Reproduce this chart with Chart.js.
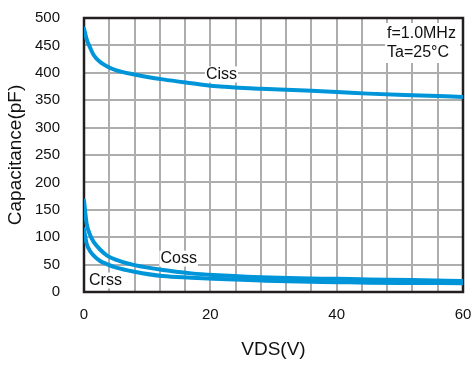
<!DOCTYPE html>
<html>
<head>
<meta charset="utf-8">
<script src="https://cdn.jsdelivr.net/npm/chart.js@4"></script>
<style>
  html, body { margin: 0; padding: 0; background: #fff; }
  #wrap { width: 472px; height: 365px; }
</style>
</head>
<body>
<div id="wrap"><canvas id="capChart" width="472" height="365"></canvas></div>
<script>
// Data ----------------------------------------------------

const vds  = [0, 0.4, 1, 1.5, 2.5, 3.6, 5, 8, 12.5, 17, 20.5, 28, 34, 40, 45, 52, 60];
const ciss = [481, 462, 445, 433, 420, 412, 405, 397, 388, 381, 376, 371, 368, 365, 362, 359, 356];
const coss = [167, 126, 103, 92, 78, 67, 59, 49, 40, 34, 31, 27, 25, 24, 23, 22, 20];
const crss = [114, 89, 74, 67, 57, 51, 45, 37, 29, 26, 24, 21, 19, 18, 17, 16.5, 16];

const xTickLabels = [0, 20, 40, 60];
const xGridStep = 4;
const yGridStep = 50;

// curve labels: [text, vds, value]
const curveLabels = [
  ['Ciss', 19.3, 397],
  ['Coss', 12.1, 61],
  ['Crss', 0.8, 21]
];
const noteLines = ['f=1.0MHz', 'Ta=25°C'];

const blue = '#0095d9';
const font = '"Liberation Sans", Arial, sans-serif';

function toPoints(xs, ys) {
  return xs.map((x, i) => ({ x: x, y: ys[i] }));
}

function series(label, ys) {
  return {
    label: label,
    data: toPoints(vds, ys),
    borderColor: blue,
    borderWidth: 4,
    cubicInterpolationMode: 'monotone',
    pointRadius: 0,
    borderCapStyle: 'round',
    fill: false
  };
}

// grid, frame + text labels
const extras = {
  id: 'extras',
  beforeDatasetsDraw(chart) {
    const { ctx, chartArea: a } = chart;
    const xs = chart.scales.x, ys = chart.scales.y;
    ctx.save();
    ctx.lineWidth = 2;
    ctx.strokeStyle = '#adadad';
    for (let v = xs.min; v <= xs.max; v += xGridStep) {
      const px = Math.round(xs.getPixelForValue(v));
      ctx.beginPath();
      ctx.moveTo(px, a.top);
      ctx.lineTo(px, a.bottom);
      ctx.stroke();
    }
    for (let v = ys.min; v <= ys.max; v += yGridStep) {
      const py = Math.round(ys.getPixelForValue(v));
      ctx.beginPath();
      ctx.moveTo(a.left, py);
      ctx.lineTo(a.right, py);
      ctx.stroke();
    }
    ctx.strokeStyle = '#231f20';
    ctx.lineWidth = 2.5;
    ctx.strokeRect(a.left, a.top, a.right - a.left, a.bottom - a.top);
    ctx.restore();
  },
  afterDatasetsDraw(chart) {
    const { ctx, chartArea: a } = chart;
    const xs = chart.scales.x, ys = chart.scales.y;
    ctx.save();
    ctx.font = '16px ' + font;
    ctx.textBaseline = 'middle';
    ctx.textAlign = 'left';
    curveLabels.forEach(([t, x, y]) => {
      const px = xs.getPixelForValue(x), py = ys.getPixelForValue(y);
      const w = ctx.measureText(t).width;
      ctx.fillStyle = '#fff';
      ctx.fillRect(px - 1, py - 8, w + 2, 16);
      ctx.fillStyle = '#111';
      ctx.fillText(t, px, py);
    });
    // conditions box, top right
    const bx = a.right - 78, by = a.top + 5;
    ctx.fillStyle = '#fff';
    ctx.fillRect(bx, by, 75, 40);
    ctx.fillStyle = '#111';
    noteLines.forEach((t, i) => ctx.fillText(t, bx + 2, by + 11 + i * 19));
    ctx.restore();
  }
};

const config = {
  type: 'line',
  data: {
    datasets: [series('Ciss', ciss), series('Coss', coss), series('Crss', crss)]
  },
  options: {
    responsive: false,
    animation: false,
    layout: { padding: { top: 18, right: 9, left: 0, bottom: 0 } },
    plugins: { legend: { display: false }, tooltip: { enabled: false } },
    scales: {
      x: {
        type: 'linear',
        min: 0, max: 60,
        ticks: {
          stepSize: xGridStep,
          autoSkip: false,
          maxRotation: 0,
          padding: 6,
          color: '#111',
          font: { family: font, size: 15 },
          callback: (v) => xTickLabels.includes(v) ? String(v) : ''
        },
        grid: { display: false },
        border: { display: false },
        title: {
          display: true, text: 'VDS(V)', color: '#111',
          font: { family: font, size: 19 }, padding: { top: 7 }
        },
        afterFit: (s) => { s.height = 73; s.paddingLeft = 0; s.paddingRight = 0; }
      },
      y: {
        min: 0, max: 500,
        ticks: {
          stepSize: yGridStep,
          padding: 16,
          color: '#111',
          font: { family: font, size: 15 }
        },
        grid: { display: false },
        border: { display: false },
        title: {
          display: true, text: 'Capacitance(pF)', color: '#111',
          font: { family: font, size: 19 }, padding: { bottom: 2 }
        },
        afterFit: (s) => { s.width = 84; s.paddingTop = 0; s.paddingBottom = 0; }
      }
    }
  },
  plugins: [extras]
};

const capChart = new Chart(document.getElementById('capChart'), config);
</script>
</body>
</html>
